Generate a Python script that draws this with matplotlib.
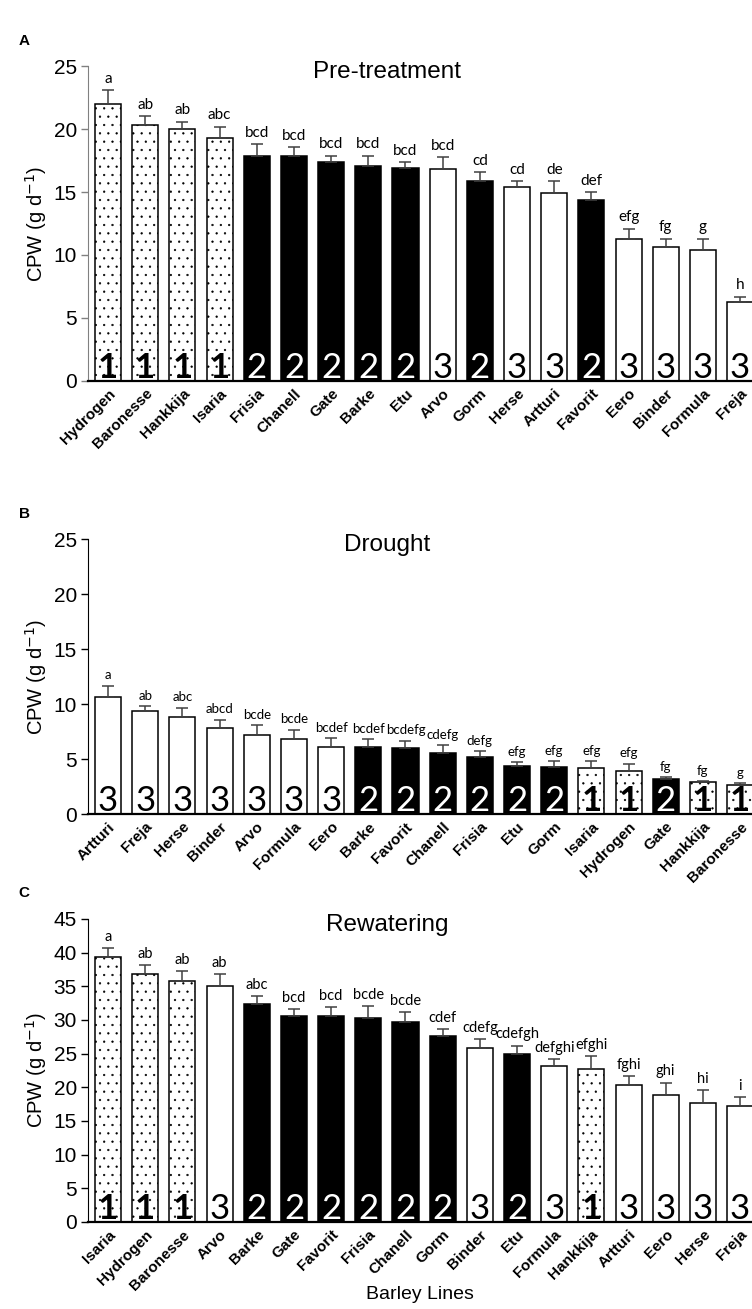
import numpy as np
import matplotlib.pyplot as plt

plt.rcParams['font.family'] = ['Liberation Sans', 'DejaVu Sans']
plt.rcParams['hatch.linewidth'] = 0.4

# A: pre-treatment
pre_lines = ["Hydrogen", "Baronesse", "Hankkija", "Isaria", "Frisia", "Chanell", "Gate", "Barke", "Etu",
             "Arvo", "Gorm", "Herse", "Artturi", "Favorit", "Eero", "Binder", "Formula", "Freja"]
pre_cpw = [22.0, 20.3, 20.0, 19.3, 17.9, 17.9, 17.4, 17.1, 16.9, 16.8, 15.9, 15.4, 14.9, 14.4, 11.3, 10.6, 10.4, 6.3]
pre_err = [1.1, 0.7, 0.6, 0.9, 0.9, 0.7, 0.5, 0.8, 0.5, 1.0, 0.7, 0.5, 1.0, 0.6, 0.8, 0.7, 0.9, 0.4]
pre_letters = ["a", "ab", "ab", "abc", "bcd", "bcd", "bcd", "bcd", "bcd", "bcd", "cd", "cd", "de", "def",
               "efg", "fg", "g", "h"]
pre_group = [1, 1, 1, 1, 2, 2, 2, 2, 2, 3, 2, 3, 3, 2, 3, 3, 3, 3]

# B: drought
dro_lines = ["Artturi", "Freja", "Herse", "Binder", "Arvo", "Formula", "Eero", "Barke", "Favorit", "Chanell",
             "Frisia", "Etu", "Gorm", "Isaria", "Hydrogen", "Gate", "Hankkija", "Baronesse"]
dro_cpw = [10.7, 9.4, 8.8, 7.8, 7.2, 6.8, 6.1, 6.1, 6.0, 5.6, 5.2, 4.4, 4.3, 4.2, 3.9, 3.2, 2.9, 2.7]
dro_err = [1.0, 0.45, 0.9, 0.8, 0.9, 0.9, 0.8, 0.7, 0.7, 0.7, 0.55, 0.35, 0.5, 0.6, 0.7, 0.15, 0.1, 0.1]
dro_letters = ["a", "ab", "abc", "abcd", "bcde", "bcde", "bcdef", "bcdef", "bcdefg", "cdefg", "defg", "efg",
               "efg", "efg", "efg", "fg", "fg", "g"]
dro_group = [3, 3, 3, 3, 3, 3, 3, 2, 2, 2, 2, 2, 2, 1, 1, 2, 1, 1]

# C: rewatering
rew_lines = ["Isaria", "Hydrogen", "Baronesse", "Arvo", "Barke", "Gate", "Favorit", "Frisia", "Chanell", "Gorm",
             "Binder", "Etu", "Formula", "Hankkija", "Artturi", "Eero", "Herse", "Freja"]
rew_cpw = [39.3, 36.8, 35.8, 35.1, 32.4, 30.6, 30.6, 30.3, 29.7, 27.6, 25.8, 25.0, 23.2, 22.7, 20.4, 18.9, 17.6, 17.2]
rew_err = [1.4, 1.3, 1.4, 1.7, 1.2, 1.0, 1.3, 1.8, 1.5, 1.1, 1.4, 1.2, 1.0, 1.9, 1.2, 1.8, 2.0, 1.3]
rew_letters = ["a", "ab", "ab", "ab", "abc", "bcd", "bcd", "bcde", "bcde", "cdef", "cdefg", "cdefgh", "defghi",
               "efghi", "fghi", "ghi", "hi", "i"]
rew_group = [1, 1, 1, 3, 2, 2, 2, 2, 2, 2, 3, 2, 3, 1, 3, 3, 3, 3]

fig = plt.figure(figsize=(7.52, 13.09), dpi=100)


def panel(rect, lines, cpw, err, letters, group, ymax, title, tag, spine_color, letter_size=11):
    ax = fig.add_axes(rect)
    x = np.arange(len(lines))
    for xi, v, g in zip(x, cpw, group):
        if g == 1:
            ax.bar(xi, v, 0.7, color='white', edgecolor='black', hatch='..', lw=1.1)
        elif g == 2:
            ax.bar(xi, v, 0.7, color='black', edgecolor='black', lw=1.1)
        else:
            ax.bar(xi, v, 0.7, color='white', edgecolor='black', lw=1.1)
        ax.annotate(str(g), (xi, 0), xytext=(0, 2), textcoords='offset points', ha='center', va='baseline',
                    fontsize=25, family='Lato', color='white' if g == 2 else 'black',
                    fontweight='bold' if g == 1 else 'normal')
    ax.errorbar(x, cpw, yerr=[np.zeros(len(err)), err], fmt='none', ecolor='#404040', elinewidth=1.1,
                capsize=4, capthick=1.1)
    for xi, v, e, lab in zip(x, cpw, err, letters):
        ax.annotate(lab, (xi, v + e), xytext=(0, 3), textcoords='offset points', ha='center', va='bottom',
                    fontsize=letter_size, family='Lato')
    ax.set_xlim(-0.54, 17.32)
    ax.set_ylim(0, ymax)
    ax.set_yticks(np.arange(0, ymax + 1, 5))
    ax.set_xticks(x)
    ax.set_xticklabels(lines, rotation=45, ha='right', rotation_mode='anchor', fontsize=11, fontweight='bold')
    ax.tick_params(axis='x', length=0, pad=4)
    ax.tick_params(axis='y', labelsize=15, length=5, width=1, color=spine_color, pad=3)
    ax.spines['top'].set_visible(False)
    ax.spines['right'].set_visible(False)
    ax.spines['left'].set_color(spine_color)
    ax.spines['bottom'].set_linewidth(1.6)
    ax.set_ylabel('CPW (g d$^{-1}$)', fontsize=14.5, labelpad=3)
    ax.text(0.45, 0.98, title, transform=ax.transAxes, ha='center', va='center', fontsize=17.5)
    fig.text(0.025, rect[1] + rect[3] + 0.0195, tag, fontsize=11, fontweight='bold', va='center')
    return ax


panel([0.117, 0.709, 0.883, 0.2405], pre_lines, pre_cpw, pre_err, pre_letters, pre_group, 25,
      'Pre-treatment', 'A', '#808080')
panel([0.117, 0.378, 0.883, 0.210], dro_lines, dro_cpw, dro_err, dro_letters, dro_group, 25,
      'Drought', 'B', 'black', letter_size=9.5)
axc = panel([0.117, 0.0665, 0.883, 0.2315], rew_lines, rew_cpw, rew_err, rew_letters, rew_group, 45,
            'Rewatering', 'C', 'black', letter_size=10.5)
fig.text(0.558, 0.011, 'Barley Lines', ha='center', va='center', fontsize=14)

fig.savefig('out.png', dpi=100)
